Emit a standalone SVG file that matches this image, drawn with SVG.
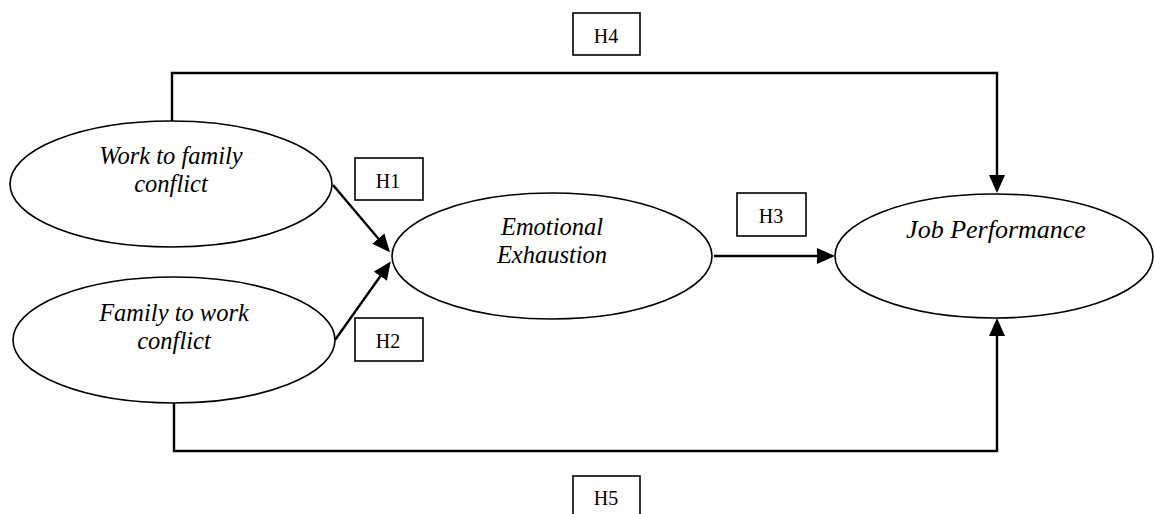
<svg xmlns="http://www.w3.org/2000/svg" width="1154" height="514" viewBox="0 0 1154 514">
<style>
.node ellipse{fill:#fff;stroke:#000;stroke-width:1.6}
.lbl{font-family:"Liberation Serif","Times New Roman",serif;font-style:italic;font-size:24.5px;fill:#000;text-anchor:middle}
.box rect{fill:#fff;stroke:#000;stroke-width:1.6}
.box text{font-family:"Liberation Serif","Times New Roman",serif;font-size:20px;fill:#000;text-anchor:middle}
.conn{fill:none;stroke:#000;stroke-width:2.4;marker-end:url(#ah)}
</style>
<defs>
<marker id="ah" markerUnits="userSpaceOnUse" markerWidth="19" markerHeight="17" viewBox="0 0 19 17" refX="15" refY="8.5" orient="auto">
<path d="M0,0.5 L18,8.5 L0,16.5 Z" fill="#000"/>
</marker>
</defs>
<g id="connectors">
<path class="conn" d="M172,121 V73 H997 V190"/>
<path class="conn" d="M174,403 V451 H997 V321"/>
<path class="conn" d="M333,185 L388,250"/>
<path class="conn" d="M335,340 L389,264"/>
<path class="conn" d="M714,256 H832"/>
</g>
<g id="wfc" class="node">
<ellipse cx="171" cy="184" rx="161" ry="63"/>
<text class="lbl" x="171" y="164">Work to family</text>
<text class="lbl" x="171" y="192">conflict</text>
</g>
<g id="fwc" class="node">
<ellipse cx="174" cy="340" rx="161" ry="63"/>
<text class="lbl" x="174" y="321">Family to work</text>
<text class="lbl" x="174" y="349">conflict</text>
</g>
<g id="ee" class="node">
<ellipse cx="552" cy="256" rx="160" ry="63"/>
<text class="lbl" x="552" y="235">Emotional</text>
<text class="lbl" x="552" y="263">Exhaustion</text>
</g>
<g id="jp" class="node">
<ellipse cx="994" cy="256" rx="159" ry="62"/>
<text class="lbl" x="996" y="238" style="font-size:26px">Job Performance</text>
</g>
<g id="h1" class="box"><rect x="355" y="158" width="68" height="42"/><text x="388" y="188">H1</text></g>
<g id="h2" class="box"><rect x="355" y="318" width="68" height="43"/><text x="388" y="348">H2</text></g>
<g id="h3" class="box"><rect x="737" y="193" width="69" height="43"/><text x="771" y="223">H3</text></g>
<g id="h4" class="box"><rect x="573" y="13" width="67" height="42"/><text x="606" y="43">H4</text></g>
<g id="h5" class="box"><rect x="573" y="476" width="67" height="42"/><text x="606" y="505">H5</text></g>
</svg>
